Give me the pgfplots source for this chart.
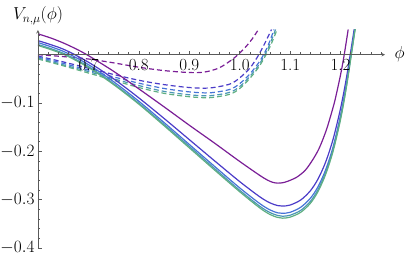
\documentclass[border=0pt]{standalone}
\usepackage{pgfplots}
\pgfplotsset{compat=1.18}
\definecolor{c1}{RGB}{122,30,150}
\definecolor{c2}{RGB}{75,60,200}
\definecolor{c3}{RGB}{70,115,215}
\definecolor{c4}{RGB}{75,150,180}
\definecolor{c5}{RGB}{95,175,130}
\begin{document}
\begin{tikzpicture}
\begin{axis}[
  scale only axis, width=347pt, height=218pt,
  xmin=0.6, xmax=1.288, ymin=-0.4, ymax=0.051,
  axis lines=middle, axis on top,
  axis line style={black!65, line width=0.6pt},
  xtick={0.7,0.8,0.9,1.0,1.1,1.2},
  xticklabels={0.7,0.8,0.9,1.0,1.1,1.2},
  ytick={-0.4,-0.3,-0.2,-0.1},
  yticklabels={$-0.4$,$-0.3$,$-0.2$,$-0.1$},
  minor xtick={0.62,0.64,0.66,0.68,0.72,0.74,0.76,0.78,0.82,0.84,0.86,0.88,0.92,0.94,0.96,0.98,1.02,1.04,1.06,1.08,1.12,1.14,1.16,1.18,1.22,1.24,1.26,1.28},
  minor ytick={-0.38,-0.36,-0.34,-0.32,-0.28,-0.26,-0.24,-0.22,-0.18,-0.16,-0.14,-0.12,-0.08,-0.06,-0.04,-0.02,0.02,0.04},
  tick align=inside,
  major tick length=4pt, minor tick length=2.5pt,
  tick style={black!65, line width=0.6pt},
  tick label style={font=\fontsize{17}{20}\selectfont},
  xticklabel style={yshift=-1pt},
  xlabel={$\phi$},
  ylabel={$V_{n,\mu}(\phi)$},
  every axis x label/.style={at={(axis description cs:1,0.8869)},anchor=west,xshift=6pt,font=\fontsize{17}{20}\selectfont},
  every axis y label/.style={at={(axis description cs:0,1)},anchor=south,yshift=2pt,font=\fontsize{17}{20}\selectfont},
  every axis plot/.append style={line width=1.2pt, smooth},
]
% dashed curves
\addplot[c1, dash pattern=on 5pt off 3pt] coordinates {(0.6,0.0) (0.65,-0.004) (0.7,-0.009) (0.75,-0.017) (0.8,-0.026) (0.85,-0.033) (0.9,-0.037) (0.93,-0.036) (0.96,-0.027) (0.99,-0.006) (1.01,0.014) (1.025,0.033) (1.037,0.052)};
\addplot[c2, dash pattern=on 5pt off 3pt] coordinates {(0.6,-0.003) (0.65,-0.015) (0.7,-0.028) (0.75,-0.041) (0.8,-0.053) (0.85,-0.062) (0.9,-0.068) (0.94,-0.069) (0.98,-0.061) (1.0,-0.048) (1.02,-0.028) (1.035,-0.005) (1.048,0.020) (1.063,0.052)};
\addplot[c3, dash pattern=on 5pt off 3pt] coordinates {(0.6,-0.005) (0.65,-0.018) (0.7,-0.032) (0.75,-0.046) (0.8,-0.059) (0.85,-0.070) (0.9,-0.077) (0.94,-0.079) (0.98,-0.072) (1.0,-0.060) (1.02,-0.040) (1.04,-0.013) (1.055,0.016) (1.068,0.052)};
\addplot[c4, dash pattern=on 5pt off 3pt] coordinates {(0.6,-0.007) (0.65,-0.021) (0.7,-0.035) (0.75,-0.050) (0.8,-0.064) (0.85,-0.076) (0.9,-0.083) (0.94,-0.085) (0.98,-0.078) (1.0,-0.066) (1.02,-0.045) (1.04,-0.018) (1.057,0.015) (1.071,0.052)};
\addplot[c5, dash pattern=on 5pt off 3pt] coordinates {(0.6,-0.009) (0.65,-0.023) (0.7,-0.038) (0.75,-0.053) (0.8,-0.068) (0.85,-0.080) (0.9,-0.087) (0.94,-0.089) (0.98,-0.082) (1.0,-0.070) (1.02,-0.049) (1.04,-0.022) (1.059,0.014) (1.074,0.052)};
% solid curves
\addplot[c1] coordinates {(0.6,0.043) (0.625,0.0346) (0.65,0.0243) (0.675,0.0121) (0.7,-0.002) (0.75,-0.0345) (0.8,-0.0708) (0.85,-0.108) (0.9,-0.146) (0.95,-0.183) (1.0,-0.221) (1.04,-0.250) (1.055,-0.2595) (1.065,-0.264) (1.075,-0.2658) (1.085,-0.2650) (1.095,-0.2620) (1.113,-0.2535) (1.13,-0.2390) (1.145,-0.2170) (1.158,-0.1925) (1.172,-0.1550) (1.184,-0.1130) (1.19,-0.0890) (1.2,-0.0410) (1.207,-0.0010) (1.215,0.052)};
\addplot[c2] coordinates {(0.6,0.029) (0.65,0.0115) (0.7,-0.0156) (0.75,-0.050) (0.8,-0.0895) (0.85,-0.132) (0.9,-0.1758) (0.95,-0.2196) (1.0,-0.2627) (1.04,-0.2943) (1.06,-0.3067) (1.075,-0.3122) (1.085,-0.3133) (1.1,-0.3111) (1.121,-0.3006) (1.14,-0.2816) (1.155,-0.2576) (1.17,-0.2231) (1.185,-0.1751) (1.2,-0.1106) (1.212,-0.0452) (1.227,0.053)};
\addplot[c3] coordinates {(0.6,0.025) (0.65,0.007) (0.7,-0.0206) (0.75,-0.056) (0.8,-0.0965) (0.85,-0.1405) (0.9,-0.1858) (0.95,-0.2311) (1.0,-0.2757) (1.04,-0.3083) (1.06,-0.3212) (1.075,-0.3272) (1.085,-0.3283) (1.1,-0.3261) (1.121,-0.3156) (1.14,-0.2971) (1.155,-0.2736) (1.17,-0.2391) (1.185,-0.1911) (1.2,-0.1246) (1.212,-0.0572) (1.227,0.045) (1.2282,0.053)};
\addplot[c4] coordinates {(0.6,0.021) (0.65,0.003) (0.7,-0.0246) (0.75,-0.060) (0.8,-0.1005) (0.85,-0.1445) (0.9,-0.1898) (0.95,-0.2356) (1.0,-0.2807) (1.04,-0.3138) (1.06,-0.3267) (1.075,-0.3327) (1.085,-0.3343) (1.1,-0.3321) (1.121,-0.3221) (1.14,-0.3036) (1.155,-0.2796) (1.17,-0.2446) (1.185,-0.1961) (1.2,-0.1296) (1.212,-0.0612) (1.227,0.042) (1.2286,0.053)};
\addplot[c5] coordinates {(0.6,0.019) (0.65,0.001) (0.7,-0.0266) (0.75,-0.062) (0.8,-0.1025) (0.85,-0.147) (0.9,-0.1928) (0.95,-0.2386) (1.0,-0.2837) (1.04,-0.3173) (1.06,-0.3307) (1.075,-0.3367) (1.085,-0.3383) (1.1,-0.3361) (1.121,-0.3261) (1.14,-0.3076) (1.155,-0.2836) (1.17,-0.2486) (1.185,-0.2001) (1.2,-0.1336) (1.212,-0.0642) (1.227,0.040) (1.229,0.053)};
\end{axis}
\pgfresetboundingbox
\path[use as bounding box] (-38pt,-12pt) rectangle (369pt,248pt);
\end{tikzpicture}
\end{document}
